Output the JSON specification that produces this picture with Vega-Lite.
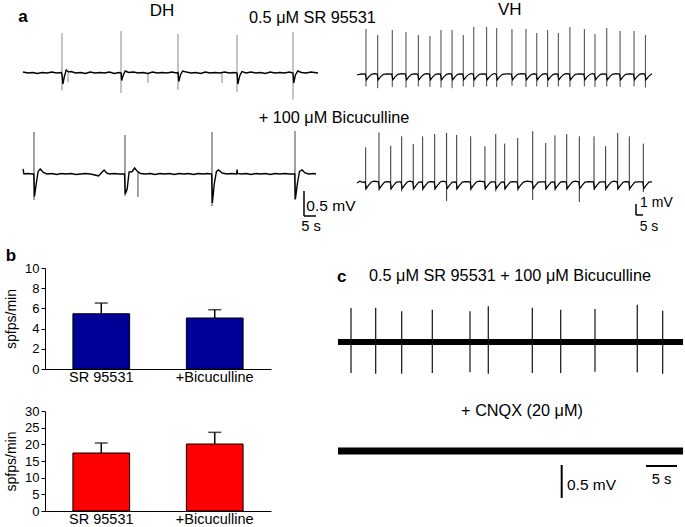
{
"$schema":"https://vega.github.io/schema/vega-lite/v6.json",
"padding":0,
"background":"white",
"columns":3,
"spacing":0,
"bounds":"flush",
"align":"each",
"config":{"view":{"stroke":null},"font":"Liberation Sans","text":{"color":"black"},
 "axisY":{"labelOverlap":false,"grid":false,"titleFontSize":14,"titleFontWeight":"normal","titleColor":"black","titlePadding":6,"labelFontSize":13,"labelColor":"black","domainColor":"black","tickColor":"black","tickSize":4,"labelPadding":2},
 "axisX":{"labelAngle":0,"ticks":false,"labelFontSize":14.5,"labelColor":"black","domainColor":"black","labelPadding":1}},
"datasets":{
"dh1":[{"t":0,"v":0.02},{"t":2,"v":0},{"t":4,"v":0.01},{"t":6,"v":-0.01},{"t":8,"v":0.01},{"t":10,"v":0},{"t":12,"v":0.02},{"t":14,"v":0},{"t":16,"v":0.01},{"t":16.3,"v":-0.04},{"t":16.6,"v":-0.22},{"t":17.2,"v":-0.08},{"t":18,"v":0.06},{"t":19,"v":0.02},{"t":20,"v":0.03},{"t":22,"v":0},{"t":24,"v":0.01},{"t":26,"v":-0.01},{"t":28,"v":0.02},{"t":30,"v":0},{"t":32,"v":0.01},{"t":34,"v":0},{"t":36,"v":0.02},{"t":38,"v":-0.01},{"t":40,"v":0.01},{"t":40.9,"v":0},{"t":41.1,"v":-0.15},{"t":41.8,"v":-0.04},{"t":42.6,"v":0.04},{"t":44,"v":0.01},{"t":46,"v":0.02},{"t":48,"v":0},{"t":50,"v":0.01},{"t":52,"v":-0.01},{"t":54,"v":0.02},{"t":56,"v":0},{"t":58,"v":0.01},{"t":60,"v":0},{"t":62,"v":0.02},{"t":64,"v":0},{"t":64.6,"v":0.01},{"t":64.9,"v":-0.17},{"t":65.6,"v":-0.04},{"t":66.5,"v":0.04},{"t":68,"v":0.02},{"t":70,"v":0},{"t":72,"v":0.01},{"t":74,"v":-0.01},{"t":76,"v":0.02},{"t":78,"v":0},{"t":80,"v":0.01},{"t":82,"v":0},{"t":84,"v":0.02},{"t":86,"v":0},{"t":88,"v":0.01},{"t":89.2,"v":0},{"t":89.5,"v":-0.22},{"t":90.3,"v":-0.06},{"t":91.2,"v":0.03},{"t":93,"v":0},{"t":95,"v":0.02},{"t":97,"v":0},{"t":99,"v":0.01},{"t":101,"v":-0.01},{"t":103,"v":0.02},{"t":105,"v":0},{"t":107,"v":0.01},{"t":109,"v":0},{"t":111,"v":0.02},{"t":112.5,"v":0},{"t":112.8,"v":-0.2},{"t":113.5,"v":-0.04},{"t":114.5,"v":0.04},{"t":116,"v":0.01},{"t":118,"v":0},{"t":120,"v":0.02},{"t":122.9,"v":0}],
"dh1Spk":[{"t":16.25,"v":0.8,"v2":-0.35},{"t":40.83,"v":0.84,"v2":-0.4},{"t":64.58,"v":0.78,"v2":-0.34},{"t":89.17,"v":0.76,"v2":-0.38},{"t":112.5,"v":0.82,"v2":-0.53},{"t":18.75,"v":0,"v2":-0.18},{"t":52.08,"v":0,"v2":-0.2},{"t":82.92,"v":0,"v2":-0.2}],
"dh2":[{"t":0,"v":0.1},{"t":0.4,"v":0},{"t":2,"v":0.01},{"t":4,"v":0},{"t":4.5,"v":0},{"t":4.8,"v":-0.45},{"t":5.5,"v":-0.2},{"t":6.3,"v":0.05},{"t":7.2,"v":0.1},{"t":8.5,"v":0.03},{"t":10,"v":0},{"t":12,"v":0.01},{"t":14,"v":-0.01},{"t":16,"v":0.01},{"t":18,"v":0},{"t":20,"v":0.01},{"t":22,"v":-0.01},{"t":24,"v":0},{"t":26,"v":0.01},{"t":28,"v":0},{"t":30,"v":-0.02},{"t":31.5,"v":-0.04},{"t":33,"v":0.04},{"t":33.8,"v":0.08},{"t":34.8,"v":0.02},{"t":36,"v":0},{"t":38,"v":0.01},{"t":40,"v":0},{"t":42.3,"v":0},{"t":42.6,"v":-0.4},{"t":43.4,"v":-0.3},{"t":44.2,"v":0.04},{"t":45.5,"v":0.05},{"t":46.5,"v":0.12},{"t":47.5,"v":0.06},{"t":49,"v":0.01},{"t":51,"v":0},{"t":53,"v":0.01},{"t":55,"v":-0.01},{"t":57,"v":0.01},{"t":59,"v":0},{"t":61,"v":0.01},{"t":63,"v":-0.01},{"t":65,"v":0.01},{"t":67,"v":0},{"t":69,"v":0.01},{"t":71,"v":-0.01},{"t":73,"v":0.01},{"t":75,"v":0},{"t":77,"v":0.01},{"t":78.6,"v":0},{"t":78.9,"v":-0.58},{"t":79.7,"v":-0.2},{"t":80.6,"v":0.05},{"t":81.5,"v":0.08},{"t":83,"v":0.02},{"t":85,"v":0},{"t":87,"v":0.01},{"t":89,"v":0},{"t":89.2,"v":0.09},{"t":89.4,"v":0.01},{"t":91,"v":0},{"t":93,"v":0.01},{"t":95,"v":-0.01},{"t":97,"v":0.01},{"t":99,"v":0},{"t":101,"v":0.01},{"t":103,"v":-0.01},{"t":105,"v":0.01},{"t":107,"v":0},{"t":109,"v":0.01},{"t":111,"v":0},{"t":113.2,"v":0},{"t":113.5,"v":-0.5},{"t":114.3,"v":-0.2},{"t":115.2,"v":0.05},{"t":116.3,"v":0.08},{"t":117.5,"v":0.02},{"t":119,"v":0},{"t":121,"v":0.01},{"t":122.1,"v":0}],
"dh2Spk":[{"t":4.58,"v":0.84,"v2":-0.52},{"t":42.5,"v":0.78,"v2":-0.44},{"t":78.75,"v":0.84,"v2":-0.64},{"t":113.33,"v":0.86,"v2":-0.52},{"t":47.9,"v":0.05,"v2":-0.46}],
"vh1":[{"t":0,"v":0},{"t":3,"v":0.1},{"t":6.0,"v":0.08},{"t":6.8,"v":-0.4},{"t":8.4,"v":-0.15},{"t":10.4,"v":0.05},{"t":12.4,"v":0.12},{"t":14.4,"v":0.08},{"t":15.2,"v":-0.4},{"t":16.8,"v":-0.15},{"t":18.8,"v":0.05},{"t":21.8,"v":0.1},{"t":24.8,"v":0.08},{"t":25.6,"v":-0.4},{"t":27.2,"v":-0.15},{"t":29.2,"v":0.05},{"t":32,"v":0.12},{"t":34.6,"v":0.08},{"t":35.4,"v":-0.4},{"t":37.0,"v":-0.15},{"t":39.0,"v":0.05},{"t":41.2,"v":0.1},{"t":43.4,"v":0.08},{"t":44.2,"v":-0.4},{"t":45.8,"v":-0.15},{"t":47.8,"v":0.05},{"t":49.8,"v":0.12},{"t":51.7,"v":0.08},{"t":52.5,"v":-0.4},{"t":54.1,"v":-0.15},{"t":56.1,"v":0.05},{"t":57.9,"v":0.1},{"t":59.6,"v":0.08},{"t":60.4,"v":-0.4},{"t":62.0,"v":-0.15},{"t":64.0,"v":0.05},{"t":65.8,"v":0.12},{"t":67.5,"v":0.08},{"t":68.3,"v":-0.4},{"t":69.9,"v":-0.15},{"t":71.9,"v":0.05},{"t":73.7,"v":0.1},{"t":75.5,"v":0.08},{"t":76.3,"v":-0.4},{"t":77.9,"v":-0.15},{"t":79.9,"v":0.05},{"t":81.5,"v":0.12},{"t":83.0,"v":0.08},{"t":83.8,"v":-0.4},{"t":85.4,"v":-0.15},{"t":87.4,"v":0.05},{"t":89.8,"v":0.1},{"t":92.2,"v":0.08},{"t":93.0,"v":-0.4},{"t":94.6,"v":-0.15},{"t":96.6,"v":0.05},{"t":98,"v":0.12},{"t":99.4,"v":0.08},{"t":100.2,"v":-0.4},{"t":101.8,"v":-0.15},{"t":103.8,"v":0.05},{"t":107,"v":0.1},{"t":110.3,"v":0.08},{"t":111.1,"v":-0.4},{"t":112.7,"v":-0.15},{"t":114.7,"v":0.05},{"t":117.5,"v":0.12},{"t":120.3,"v":0.08},{"t":121.1,"v":-0.4},{"t":122.7,"v":-0.15},{"t":124.7,"v":0.05},{"t":126.4,"v":0.1},{"t":128.0,"v":0.08},{"t":128.8,"v":-0.4},{"t":130.4,"v":-0.15},{"t":132.4,"v":0.05},{"t":134.1,"v":0.12},{"t":135.8,"v":0.08},{"t":136.6,"v":-0.4},{"t":138.2,"v":-0.15},{"t":140.2,"v":0.05},{"t":141.8,"v":0.1},{"t":143.4,"v":0.08},{"t":144.2,"v":-0.4},{"t":145.8,"v":-0.15},{"t":147.8,"v":0.05},{"t":149.8,"v":0.12},{"t":151.7,"v":0.08},{"t":152.5,"v":-0.4},{"t":154.1,"v":-0.15},{"t":156.1,"v":0.05},{"t":159,"v":0.1},{"t":162.0,"v":0.08},{"t":162.8,"v":-0.4},{"t":164.4,"v":-0.15},{"t":166.4,"v":0.05},{"t":168,"v":0.12},{"t":169.6,"v":0.08},{"t":170.4,"v":-0.4},{"t":172.0,"v":-0.15},{"t":174.0,"v":0.05},{"t":176,"v":0.1},{"t":178.0,"v":0.08},{"t":178.8,"v":-0.4},{"t":180.4,"v":-0.15},{"t":182.4,"v":0.05},{"t":185,"v":0.12},{"t":187.5,"v":0.08},{"t":188.3,"v":-0.4},{"t":189.9,"v":-0.15},{"t":191.9,"v":0.05},{"t":194.7,"v":0.1},{"t":197.5,"v":0.08},{"t":198.3,"v":-0.4},{"t":199.9,"v":-0.15},{"t":201.9,"v":0.05},{"t":203.8,"v":0.12},{"t":205.6,"v":0.08},{"t":206.4,"v":-0.4},{"t":208.0,"v":-0.15},{"t":210.0,"v":0.05},{"t":210.7,"v":0.1}],
"vh1Spk":[{"t":6.4,"v":3.83,"v2":-0.95},{"t":14.8,"v":3.33,"v2":-1.1},{"t":25.2,"v":3.75,"v2":-1.0},{"t":35.0,"v":3.58,"v2":-1.05},{"t":43.8,"v":3.33,"v2":-0.95},{"t":52.1,"v":3.25,"v2":-1.0},{"t":60.0,"v":3.75,"v2":-1.05},{"t":67.9,"v":3.75,"v2":-1.1},{"t":75.9,"v":3.33,"v2":-0.95},{"t":83.4,"v":4.0,"v2":-1.0},{"t":92.6,"v":4.0,"v2":-0.95},{"t":99.8,"v":3.92,"v2":-1.0},{"t":110.7,"v":3.83,"v2":-0.9},{"t":120.7,"v":3.83,"v2":-1.0},{"t":128.4,"v":3.5,"v2":-0.95},{"t":136.2,"v":3.75,"v2":-1.0},{"t":143.8,"v":3.5,"v2":-0.95},{"t":152.1,"v":4.0,"v2":-1.0},{"t":162.4,"v":3.83,"v2":-0.95},{"t":170.0,"v":3.42,"v2":-1.0},{"t":178.4,"v":3.92,"v2":-0.95},{"t":187.9,"v":3.67,"v2":-1.0},{"t":197.9,"v":3.67,"v2":-0.95},{"t":206.0,"v":3.33,"v2":-1.05}],
"vh2":[{"t":0,"v":0},{"t":2,"v":0.15},{"t":4,"v":0.05},{"t":5.8,"v":0.1},{"t":6.6,"v":-0.45},{"t":8.2,"v":-0.2},{"t":10.2,"v":0.08},{"t":12.5,"v":0.15},{"t":15.3,"v":0.1},{"t":16.1,"v":-0.45},{"t":17.7,"v":-0.2},{"t":19.7,"v":0.08},{"t":21.5,"v":0.12},{"t":23.7,"v":0.1},{"t":24.5,"v":-0.45},{"t":26.1,"v":-0.2},{"t":28.1,"v":0.08},{"t":29.5,"v":0.1},{"t":31.5,"v":0.1},{"t":32.3,"v":-0.45},{"t":33.9,"v":-0.2},{"t":35.9,"v":0.08},{"t":37.5,"v":0.15},{"t":39.8,"v":0.1},{"t":40.6,"v":-0.45},{"t":42.2,"v":-0.2},{"t":44.2,"v":0.08},{"t":46.5,"v":0.1},{"t":47.3,"v":-0.45},{"t":48.9,"v":-0.2},{"t":50.9,"v":0.08},{"t":52.5,"v":0.12},{"t":55.1,"v":0.1},{"t":55.9,"v":-0.45},{"t":57.5,"v":-0.2},{"t":59.5,"v":0.08},{"t":61.5,"v":0.15},{"t":63.6,"v":0.1},{"t":64.4,"v":-0.45},{"t":66.0,"v":-0.2},{"t":68.0,"v":0.08},{"t":70.8,"v":0.1},{"t":71.6,"v":-0.45},{"t":73.2,"v":-0.2},{"t":75.2,"v":0.08},{"t":77.5,"v":0.12},{"t":80.8,"v":0.1},{"t":81.6,"v":-0.45},{"t":83.2,"v":-0.2},{"t":85.2,"v":0.08},{"t":87.5,"v":0.15},{"t":91.0,"v":0.1},{"t":91.8,"v":-0.45},{"t":93.4,"v":-0.2},{"t":95.4,"v":0.08},{"t":96.5,"v":0.1},{"t":98.7,"v":0.1},{"t":99.5,"v":-0.45},{"t":101.1,"v":-0.2},{"t":103.1,"v":0.08},{"t":105.1,"v":0.1},{"t":105.9,"v":-0.45},{"t":107.5,"v":-0.2},{"t":109.5,"v":0.08},{"t":111,"v":0.12},{"t":114.4,"v":0.1},{"t":115.2,"v":-0.45},{"t":116.8,"v":-0.2},{"t":118.8,"v":0.08},{"t":121.5,"v":0.15},{"t":125.1,"v":0.1},{"t":125.9,"v":-0.45},{"t":127.5,"v":-0.2},{"t":129.5,"v":0.08},{"t":131.5,"v":0.1},{"t":134.4,"v":0.1},{"t":135.2,"v":-0.45},{"t":136.8,"v":-0.2},{"t":138.8,"v":0.08},{"t":141.0,"v":0.1},{"t":141.8,"v":-0.45},{"t":143.4,"v":-0.2},{"t":145.4,"v":0.08},{"t":146.5,"v":0.12},{"t":149.4,"v":0.1},{"t":150.2,"v":-0.45},{"t":151.8,"v":-0.2},{"t":153.8,"v":0.08},{"t":155.5,"v":0.15},{"t":158.4,"v":0.1},{"t":159.2,"v":-0.45},{"t":160.8,"v":-0.2},{"t":162.8,"v":0.08},{"t":165.5,"v":0.12},{"t":168.9,"v":0.1},{"t":169.7,"v":-0.45},{"t":171.3,"v":-0.2},{"t":173.3,"v":0.08},{"t":174.5,"v":0.1},{"t":177.2,"v":0.1},{"t":178.0,"v":-0.45},{"t":179.6,"v":-0.2},{"t":181.6,"v":0.08},{"t":183.5,"v":0.15},{"t":185.8,"v":0.1},{"t":186.6,"v":-0.45},{"t":188.2,"v":-0.2},{"t":190.2,"v":0.08},{"t":191.5,"v":0.12},{"t":194.1,"v":0.1},{"t":194.9,"v":-0.45},{"t":196.5,"v":-0.2},{"t":198.5,"v":0.08},{"t":201,"v":0.1},{"t":204.1,"v":0.1},{"t":204.9,"v":-0.45},{"t":206.5,"v":-0.2},{"t":208.5,"v":0.08},{"t":210.7,"v":0.1}],
"vh2Spk":[{"t":6.2,"v":2.97,"v2":-0.6},{"t":15.7,"v":4.22,"v2":-0.65},{"t":24.1,"v":3.11,"v2":-0.6},{"t":31.9,"v":3.89,"v2":-0.7},{"t":40.2,"v":3.25,"v2":-0.6},{"t":46.9,"v":3.89,"v2":-0.65},{"t":55.5,"v":4.08,"v2":-0.6},{"t":64.0,"v":4.17,"v2":-1.5},{"t":71.2,"v":4.0,"v2":-0.6},{"t":81.2,"v":3.89,"v2":-0.65},{"t":91.4,"v":3.06,"v2":-0.6},{"t":99.1,"v":4.08,"v2":-0.7},{"t":105.5,"v":3.28,"v2":-0.6},{"t":114.8,"v":3.75,"v2":-0.65},{"t":125.5,"v":4.31,"v2":-1.42},{"t":134.8,"v":3.33,"v2":-0.6},{"t":141.4,"v":3.97,"v2":-0.65},{"t":149.8,"v":4.08,"v2":-0.6},{"t":158.8,"v":3.89,"v2":-1.58},{"t":169.3,"v":3.89,"v2":-0.6},{"t":177.6,"v":3.06,"v2":-0.65},{"t":186.2,"v":4.17,"v2":-0.6},{"t":194.5,"v":3.89,"v2":-0.65},{"t":204.5,"v":3.28,"v2":-0.75}],
"c1Spk":[{"t":2.1,"v":0.515,"v2":-0.47},{"t":6.08,"v":0.52,"v2":-0.48},{"t":10.27,"v":0.465,"v2":-0.48},{"t":15.21,"v":0.49,"v2":-0.47},{"t":21.29,"v":0.465,"v2":-0.46},{"t":24.24,"v":0.54,"v2":-0.48},{"t":31.34,"v":0.52,"v2":-0.47},{"t":35.92,"v":0.49,"v2":-0.47},{"t":41.45,"v":0.5,"v2":-0.45},{"t":48.27,"v":0.565,"v2":-0.46},{"t":52.37,"v":0.475,"v2":-0.48}],
"bands":[{"grp":"c1","t":0,"t2":55.65,"v":0,"v2":0},{"grp":"c2","t":0,"t2":55.65,"v":0,"v2":0}],
"scalebars":[{"grp":"dh2","t":117.08,"t2":117.08,"v":-0.34,"v2":-0.84},{"grp":"dh2","t":117.08,"t2":122.08,"v":-0.84,"v2":-0.84},{"grp":"vh2","t":199.29,"t2":199.29,"v":-1.75,"v2":-2.667},{"grp":"vh2","t":199.29,"t2":204.29,"v":-2.667,"v2":-2.667},{"grp":"c2","t":36.08,"t2":36.08,"v":-0.212,"v2":-0.712},{"grp":"c2","t":49.68,"t2":54.68,"v":-0.227,"v2":-0.227}],
"labels":[
{"grp":"dh1","kind":"letter","t":0,"v":1.12,"label":"a"},
{"grp":"dh1","kind":"head","t":57.9,"v":1.25,"label":"DH"},
{"grp":"dh1","kind":"cond","t":120.6,"v":1.11,"label":"0.5 μM SR 95531"},
{"grp":"dh1","kind":"cond","t":129.6,"v":-0.9,"label":"+ 100 μM Bicuculline"},
{"grp":"dh2","kind":"letter","t":-5,"v":-1.64,"label":"b"},
{"grp":"dh2","kind":"mv","t":128.3,"v":-0.64,"label":"0.5 mV"},
{"grp":"dh2","kind":"sec","t":120,"v":-1.06,"label":"5 s"},
{"grp":"vh1","kind":"head","t":109.1,"v":5.42,"label":"VH"},
{"grp":"vh2","kind":"small","t":213.9,"v":-1.67,"label":"1 mV"},
{"grp":"vh2","kind":"small","t":208.6,"v":-3.67,"label":"5 s"},
{"grp":"c1","kind":"letter","t":0.6,"v":0.985,"label":"c"},
{"grp":"c1","kind":"cond","t":27.74,"v":1.0,"label":"0.5 μM SR 95531 + 100 μM Bicuculline"},
{"grp":"c2","kind":"cond","t":29.68,"v":0.606,"label":"+ CNQX (20 μM)"},
{"grp":"c2","kind":"mv","t":40.89,"v":-0.515,"label":"0.5 mV"},
{"grp":"c2","kind":"sec","t":52.2,"v":-0.439,"label":"5 s"}
],
"barsDH":[{"cond":"SR 95531","mean":5.47,"err":6.53},{"cond":"+Bicuculline","mean":5.05,"err":5.87}],
"barsVH":[{"cond":"SR 95531","mean":17.4,"err":20.4},{"cond":"+Bicuculline","mean":20.1,"err":23.6}]
},
"concat":[
{"width":45,"height":265,
 "resolve":{"scale":{"x":"independent","y":"independent"}},
 "layer":[
  {"encoding":{"x":{"field":"t","type":"quantitative","scale":{"domain":[-9.5833,9.1667],"nice":false,"zero":false},"axis":null},"y":{"field":"v","type":"quantitative","scale":{"domain":[-3.9,1.4],"nice":false,"zero":false},"axis":null}},
   "layer":[
    {"data":{"name":"dh1Spk"},"mark":{"type":"rule","color":"#8a8a8a","strokeWidth":1},"encoding":{"y2":{"field":"v2"}}},
    {"data":{"name":"dh1"},"mark":{"type":"line","color":"black","strokeWidth":1.4}},
    {"data":{"name":"labels"},"transform":[{"filter":"datum.grp==='dh1' && datum.kind!=='letter'"}],"mark":{"type":"text"},"encoding":{"text":{"field":"label"},"size":{"field":"kind","type":"ordinal","scale":{"domain":["head","cond","mv","sec","small"],"range":[17,14,14.5,14.5,11.5]},"legend":null}}},
    {"data":{"name":"labels"},"transform":[{"filter":"datum.grp==='dh1' && datum.kind==='letter'"}],"mark":{"type":"text","fontWeight":"bold","fontSize":17},"encoding":{"text":{"field":"label"}}}
   ]},
  {"encoding":{"x":{"field":"t","type":"quantitative","scale":{"domain":[-9.5833,9.1667],"nice":false,"zero":false},"axis":null},"y":{"field":"v","type":"quantitative","scale":{"domain":[-1.88,3.42],"nice":false,"zero":false},"axis":null}},
   "layer":[
    {"data":{"name":"dh2Spk"},"mark":{"type":"rule","color":"#444444","strokeWidth":1},"encoding":{"y2":{"field":"v2"}}},
    {"data":{"name":"dh2"},"mark":{"type":"line","color":"black","strokeWidth":1.4}},
    {"data":{"name":"scalebars"},"transform":[{"filter":"datum.grp==='dh2'"}],"mark":{"type":"rule","color":"black","strokeWidth":1.5},"encoding":{"x2":{"field":"t2"},"y2":{"field":"v2"}}},
    {"data":{"name":"labels"},"transform":[{"filter":"datum.grp==='dh2' && datum.kind!=='letter'"}],"mark":{"type":"text"},"encoding":{"text":{"field":"label"},"size":{"field":"kind","type":"ordinal","scale":{"domain":["head","cond","mv","sec","small"],"range":[17,14,14.5,14.5,11.5]},"legend":null}}},
    {"data":{"name":"labels"},"transform":[{"filter":"datum.grp==='dh2' && datum.kind==='letter'"}],"mark":{"type":"text","fontWeight":"bold","fontSize":17},"encoding":{"text":{"field":"label"}}}
   ]},
  {"encoding":{"x":{"field":"t","type":"quantitative","scale":{"domain":[-255,-222.857],"nice":false,"zero":false},"axis":null},"y":{"field":"v","type":"quantitative","scale":{"domain":[-16.0833,6],"nice":false,"zero":false},"axis":null}},
   "layer":[
    {"data":{"name":"vh1Spk"},"mark":{"type":"rule","color":"#444444","strokeWidth":1},"encoding":{"y2":{"field":"v2"}}},
    {"data":{"name":"vh1"},"mark":{"type":"line","color":"black","strokeWidth":1.2}},
    {"data":{"name":"labels"},"transform":[{"filter":"datum.grp==='vh1'"}],"mark":{"type":"text"},"encoding":{"text":{"field":"label"},"size":{"field":"kind","type":"ordinal","scale":{"domain":["head","cond","mv","sec","small"],"range":[17,14,14.5,14.5,11.5]},"legend":null}}}
   ]},
  {"encoding":{"x":{"field":"t","type":"quantitative","scale":{"domain":[-255,-222.857],"nice":false,"zero":false},"axis":null},"y":{"field":"v","type":"quantitative","scale":{"domain":[-7.0833,15],"nice":false,"zero":false},"axis":null}},
   "layer":[
    {"data":{"name":"vh2Spk"},"mark":{"type":"rule","color":"#333333","strokeWidth":1},"encoding":{"y2":{"field":"v2"}}},
    {"data":{"name":"vh2"},"mark":{"type":"line","color":"black","strokeWidth":1.2}},
    {"data":{"name":"scalebars"},"transform":[{"filter":"datum.grp==='vh2'"}],"mark":{"type":"rule","color":"black","strokeWidth":1.5},"encoding":{"x2":{"field":"t2"},"y2":{"field":"v2"}}},
    {"data":{"name":"labels"},"transform":[{"filter":"datum.grp==='vh2'"}],"mark":{"type":"text"},"encoding":{"text":{"field":"label"},"size":{"field":"kind","type":"ordinal","scale":{"domain":["head","cond","mv","sec","small"],"range":[17,14,14.5,14.5,11.5]},"legend":null}}}
   ]}
 ]},
{"width":1,"height":1,"data":{"values":[]},"mark":"point","encoding":{}},
{"width":1,"height":1,"data":{"values":[]},"mark":"point","encoding":{}},
{"width":1,"height":1,"data":{"values":[]},"mark":"point","encoding":{}},
{"width":226,"height":101,
 "data":{"name":"barsDH"},
 "encoding":{
  "x":{"field":"cond","type":"nominal","sort":null,"scale":{"paddingInner":0.5,"paddingOuter":0.246},"axis":{"title":null}},
  "y":{"field":"mean","type":"quantitative","title":"spfps/min","scale":{"domain":[0,10],"nice":false},"axis":{"values":[0,2,4,6,8,10],"title":"spfps/min"}}
 },
 "layer":[
  {"mark":{"type":"bar","color":"#000099","stroke":"black","strokeWidth":1}},
  {"mark":{"type":"rule","color":"black","strokeWidth":1.5},"encoding":{"y2":{"field":"err"}}},
  {"mark":{"type":"tick","color":"black","thickness":1.5,"size":13},"encoding":{"y":{"field":"err","type":"quantitative","title":"spfps/min","scale":{"domain":[0,10],"nice":false},"axis":{"values":[0,2,4,6,8,10],"title":"spfps/min"}}}},
  {"data":{"values":[{"label":"DH"}]},"mark":{"type":"text","fontSize":17},"encoding":{"x":null,"y":{"datum":9.8,"type":"quantitative","scale":{"domain":[0,10],"nice":false},"axis":{"values":[0,2,4,6,8,10],"title":"spfps/min"}},"text":{"field":"label"}}}
 ]},
{"width":414,"height":143,
 "resolve":{"scale":{"x":"independent","y":"independent"}},
 "layer":[
  {"encoding":{"x":{"field":"t","type":"quantitative","scale":{"domain":[-10.806,55.968],"nice":false,"zero":false},"axis":null},"y":{"field":"v","type":"quantitative","scale":{"domain":[-1.04545,1.12121],"nice":false,"zero":false},"axis":null}},
   "layer":[
    {"data":{"name":"bands"},"transform":[{"filter":"datum.grp==='c1'"}],"mark":{"type":"rule","color":"black","strokeWidth":6},"encoding":{"x2":{"field":"t2"},"y2":{"field":"v2"}}},
    {"data":{"name":"c1Spk"},"mark":{"type":"rule","color":"#111111","strokeWidth":1.2},"encoding":{"y2":{"field":"v2"}}},
    {"data":{"name":"labels"},"transform":[{"filter":"datum.grp==='c1' && datum.kind!=='letter'"}],"mark":{"type":"text"},"encoding":{"text":{"field":"label"},"size":{"field":"kind","type":"ordinal","scale":{"domain":["head","cond","mv","sec","small"],"range":[17,14,14.5,14.5,11.5]},"legend":null}}},
    {"data":{"name":"labels"},"transform":[{"filter":"datum.grp==='c1' && datum.kind==='letter'"}],"mark":{"type":"text","fontWeight":"bold","fontSize":17},"encoding":{"text":{"field":"label"}}}
   ]},
  {"encoding":{"x":{"field":"t","type":"quantitative","scale":{"domain":[-10.806,55.968],"nice":false,"zero":false},"axis":null},"y":{"field":"v","type":"quantitative","scale":{"domain":[0.60606,2.77273],"nice":false,"zero":false},"axis":null}},
   "layer":[
    {"data":{"name":"bands"},"transform":[{"filter":"datum.grp==='c2'"}],"mark":{"type":"rule","color":"black","strokeWidth":7},"encoding":{"x2":{"field":"t2"},"y2":{"field":"v2"}}},
    {"data":{"name":"scalebars"},"transform":[{"filter":"datum.grp==='c2'"}],"mark":{"type":"rule","color":"black","strokeWidth":2},"encoding":{"x2":{"field":"t2"},"y2":{"field":"v2"}}},
    {"data":{"name":"labels"},"transform":[{"filter":"datum.grp==='c2'"}],"mark":{"type":"text"},"encoding":{"text":{"field":"label"},"size":{"field":"kind","type":"ordinal","scale":{"domain":["head","cond","mv","sec","small"],"range":[17,14,14.5,14.5,11.5]},"legend":null}}}
   ]}
 ]},
{"width":1,"height":1,"data":{"values":[]},"mark":"point","encoding":{}},
{"width":226,"height":100,
 "data":{"name":"barsVH"},
 "encoding":{
  "x":{"field":"cond","type":"nominal","sort":null,"scale":{"paddingInner":0.5,"paddingOuter":0.246},"axis":{"title":null}},
  "y":{"field":"mean","type":"quantitative","title":"spfps/min","scale":{"domain":[0,30],"nice":false},"axis":{"values":[0,5,10,15,20,25,30],"title":"spfps/min"}}
 },
 "layer":[
  {"mark":{"type":"bar","color":"#ff0000","stroke":"black","strokeWidth":1}},
  {"mark":{"type":"rule","color":"black","strokeWidth":1.5},"encoding":{"y2":{"field":"err"}}},
  {"mark":{"type":"tick","color":"black","thickness":1.5,"size":13},"encoding":{"y":{"field":"err","type":"quantitative","title":"spfps/min","scale":{"domain":[0,30],"nice":false},"axis":{"values":[0,5,10,15,20,25,30],"title":"spfps/min"}}}},
  {"data":{"values":[{"label":"VH"}]},"mark":{"type":"text","fontSize":17},"encoding":{"x":null,"y":{"datum":27.45,"type":"quantitative","scale":{"domain":[0,30],"nice":false},"axis":{"values":[0,5,10,15,20,25,30],"title":"spfps/min"}},"text":{"field":"label"}}}
 ]}
]
}
